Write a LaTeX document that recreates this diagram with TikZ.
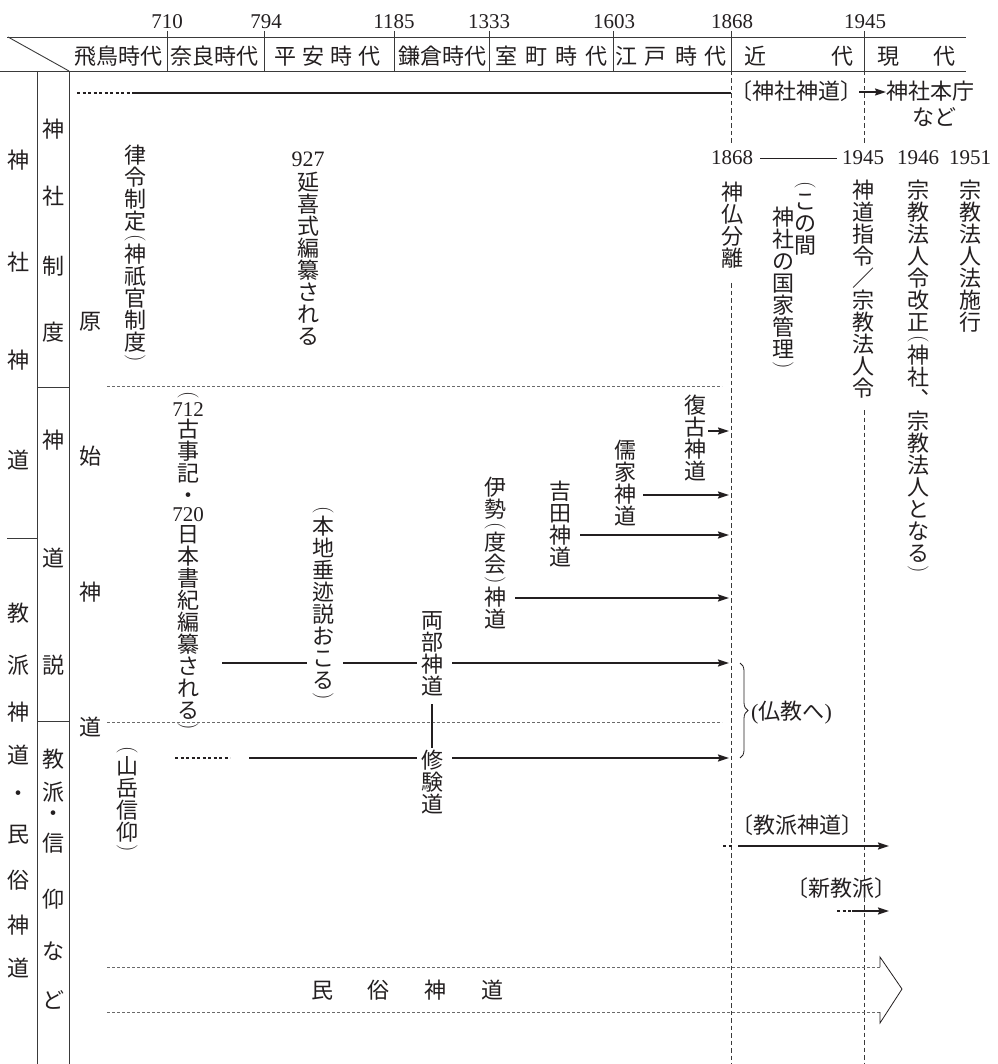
\documentclass[tikz,border=0pt]{standalone}
\usepackage{fontspec}
\usepackage{graphicx}
\newfontfamily\jp{Noto Sans CJK JP}
\newfontfamily\dg{Liberation Serif}
\usetikzlibrary{arrows.meta,decorations.pathreplacing}
\definecolor{ink}{HTML}{231F20}
\definecolor{ln}{HTML}{3A3A3A}
\definecolor{sepc}{HTML}{6A6A6A}

\makeatletter
\newdimen\vtw \vtw=22pt
\newcommand\vchar[1]{\hbox to\vtw{\hss\vrule height 19.36pt depth 2.64pt width 0pt\relax#1\hss}}
\newcommand\VO{\hbox to\vtw{\hss\vbox to 11pt{\vss\hbox{\rotatebox{-90}{\fontsize{21}{21}\rmfamily(}}\kern1.5pt}\hss}}
\newcommand\VC{\hbox to\vtw{\hss\vbox to 11pt{\kern1.5pt\hbox{\rotatebox{-90}{\fontsize{21}{21}\rmfamily)}}\vss}\hss}}
\def\VN#1;{\hbox to\vtw{\hss\vrule height 16pt depth 1.5pt width 0pt\relax{\dg\fontsize{21}{21}\selectfont#1}\hss}}
\newcommand\vtext[1]{\vbox{\offinterlineskip\@tfor\vt@c:=#1\do{\vt@one}}}
\def\vt@one{\expandafter\vt@test\vt@c\@nil}
\def\vt@test#1#2\@nil{\ifcat\noexpand#1\relax\expandafter\@firstoftwo\else\expandafter\@secondoftwo\fi{#1#2}{\vchar{#1#2}}}
\makeatother

\begin{document}
\begin{tikzpicture}[x=1pt,y=-1pt,
  font=\jp\fontsize{22}{22}\selectfont, text=ink,
  frame/.style={draw=ln, line width=0.9pt},
  sepline/.style={draw=sepc, line width=0.6pt, dash pattern=on 3pt off 2pt},
  era/.style={draw=ln, line width=0.8pt, dash pattern=on 4.5pt off 3pt},
  flow/.style={draw=ink, line width=1.7pt},
  flowarr/.style={flow, -{Stealth[length=11pt,width=7pt,inset=1.5pt]}},
  dotline/.style={draw=ink, line width=1.7pt, dash pattern=on 3pt off 2.5pt},
  vt/.style={anchor=north, inner sep=0pt},
  ch/.style={inner sep=0pt},
  yr/.style={font=\dg\fontsize{21}{21}\selectfont, inner sep=0pt, anchor=base},
  hdr/.style={inner sep=0pt},
  ]
\useasboundingbox (0,0) rectangle (997,1064);

% ---------------- header frame
\coordinate (hTL) at (7,37);  \coordinate (hTR) at (966,37);
\coordinate (hBL) at (0,71);  \coordinate (hBR) at (966,71);
\coordinate (dA) at (8,37);   \coordinate (dB) at (69,71);
\draw[frame] (hTL) -- (hTR);
\draw[frame] (hBL) -- (hBR);
\draw[frame] (dA) -- (dB);
\foreach \xx/\nm in {167/a,264/b,394/c,489/d,613/e,731/f,864/g}{
  \coordinate (tk\nm1) at (\xx,31); \coordinate (tk\nm2) at (\xx,71);
  \draw[frame] (tk\nm1) -- (tk\nm2);
}
\node[yr] (y710)  at (167,29) {710};
\node[yr] (y794)  at (266,29) {794};
\node[yr] (y1185) at (394,29) {1185};
\node[yr] (y1333) at (489,29) {1333};
\node[yr] (y1603) at (614,29) {1603};
\node[yr] (y1868) at (732,29) {1868};
\node[yr] (y1945) at (865,29) {1945};

\node[hdr] (p1) at (118,56) {飛鳥時代};
\node[hdr] (p2) at (214,56) {奈良時代};
\node[hdr] (p3) at (327.5,56) {平\kern6.3pt 安\kern6.3pt 時\kern6.3pt 代};
\node[hdr] (p4) at (442,56) {鎌倉時代};
\node[hdr] (p5) at (551.5,56) {室\kern7.7pt 町\kern7.7pt 時\kern7.7pt 代};
\node[hdr] (p6) at (671,56) {江\kern8pt 戸\kern8pt 時\kern8pt 代};
\node[hdr] (p7) at (798.5,56) {近\kern65pt 代};
\node[hdr] (p8) at (916.5,56) {現\kern35pt 代};

% ---------------- left columns
\coordinate (c1t) at (37,71);  \coordinate (c1b) at (37,1064);
\coordinate (c2t) at (69,71);  \coordinate (c2b) at (69,1064);
\draw[frame] (c1t) -- (c1b);
\draw[frame] (c2t) -- (c2b);
\coordinate (s1a) at (7,538);  \coordinate (s1b) at (37,538);
\coordinate (s2a) at (37,387); \coordinate (s2b) at (69,387);
\coordinate (s3a) at (37,721); \coordinate (s3b) at (69,721);
\draw[frame] (s1a) -- (s1b);
\draw[frame] (s2a) -- (s2b);
\draw[frame] (s3a) -- (s3b);

\foreach \ch/\yy [count=\i] in {神/160,社/262,神/360,道/460,教/613,派/665,神/712,道/755,・/796,民/835,俗/880,神/925,道/968}
  \node[ch] (ca\i) at (19,\yy) {\ch};
\foreach \ch/\yy [count=\i] in {神/129,社/196,制/266,度/332,神/440,道/558,説/665,教/759,派/792,・/816,信/843,仰/899,な/951,ど/1000}
  \node[ch] (cb\i) at (53,\yy) {\ch};
\foreach \ch/\yy [count=\i] in {原/322,始/456,神/592,道/727}
  \node[ch] (cc\i) at (90,\yy) {\ch};

% ---------------- era dashed lines
\coordinate (e1a) at (731,71);  \coordinate (e1b) at (731,145);
\coordinate (e1c) at (731,283); \coordinate (e1d) at (731,1064);
\coordinate (e2a) at (864,71);  \coordinate (e2b) at (864,145);
\coordinate (e2c) at (864,410); \coordinate (e2d) at (864,1064);
\draw[era] (e1a) -- (e1b);
\draw[era] (e1c) -- (e1d);
\draw[era] (e2a) -- (e2b);
\draw[era] (e2c) -- (e2d);

% ---------------- section dashed lines
\coordinate (d1a) at (107,386); \coordinate (d1b) at (722,386);
\coordinate (d2a) at (107,722); \coordinate (d2b) at (722,722);
\draw[sepline] (d1a) -- (d1b);
\draw[sepline] (d2a) -- (d2b);

% ---------------- top row: shrine shinto
\coordinate (t0) at (77,93); \coordinate (t1) at (133,93); \coordinate (t2) at (731,93);
\draw[dotline] (t0) -- (t1);
\draw[flow] (t1) -- (t2);
\node[inner sep=0pt, anchor=west] (jsj) at (730,91) {〔神社神道〕};
\node[inner sep=0pt, anchor=west] (jhc) at (886,91) {神社本庁};
\node[inner sep=0pt, anchor=east] (nado) at (957,117) {など};
\coordinate (ta) at (859,92); \coordinate (tb) at (886,92);
\draw[flowarr, line width=1.4pt] (ta) -- (tb);

% ---------------- modern years
\node[yr] (m1868) at (732,165) {1868};
\node[yr] (m1945) at (863,165) {1945};
\node[yr] (m1946) at (918,165) {1946};
\node[yr] (m1951) at (970,165) {1951};
\coordinate (ml1) at (760,158); \coordinate (ml2) at (837,158);
\draw[draw=ink, line width=0.9pt] (ml1) -- (ml2);

% ---------------- vertical texts
\node[vt] (ritsu) at (135,144) {\vtext{律令制定\VO 神祇官制度\VC}};
\node[font=\dg\fontsize{22}{22}\selectfont, inner sep=0pt] (n927) at (308,159) {927};
\node[vt] (engi) at (308,171) {\vtext{延喜式編纂される}};
\node[vt] (kojiki) at (188,389) {\vtext{\VO{\VN712;}古事記・{\VN720;}日本書紀編纂される\VC}};
\node[vt] (honji) at (323,504) {\vtext{\VO 本地垂迹説おこる\VC}};
\node[vt] (ryobu) at (432,609) {\vtext{両部神道}};
\node[vt] (shugen) at (432,749) {\vtext{修験道}};
\node[vt] (ise) at (495,476) {\vtext{伊勢\VO 度会\VC 神道}};
\node[vt] (yoshida) at (560,480) {\vtext{吉田神道}};
\node[vt] (juka) at (625,439) {\vtext{儒家神道}};
\node[vt] (fukko) at (695,394) {\vtext{復古神道}};
\node[vt] (shinbutsu) at (732,181) {\vtext{神仏分離}};
\node[vt] (konoma) at (805,179) {\vtext{\VO この間}};
\node[vt] (kokka) at (783,206) {\vtext{神社の国家管理\VC}};
\node[vt] (shirei) at (863,179) {\vtext{神道指令／宗教法人令}};
\node[vt] (kaisei) at (918,179) {\vtext{宗教法人令改正\VO 神社︑宗教法人となる\VC}};
\node[vt] (hojin) at (970,179) {\vtext{宗教法人法施行}};
\node[vt] (sangaku) at (127,744) {\vtext{\VO 山岳信仰\VC}};

% ---------------- flow arrows
\coordinate (r1s) at (515,598); \coordinate (r1e) at (729,598);
\coordinate (r2s) at (580,535); \coordinate (r2e) at (729,535);
\coordinate (r3s) at (643,495); \coordinate (r3e) at (729,495);
\coordinate (r4s) at (708,431); \coordinate (r4e) at (729,431);
\draw[flowarr] (r1s) -- (r1e);
\draw[flowarr] (r2s) -- (r2e);
\draw[flowarr] (r3s) -- (r3e);
\draw[flowarr, line width=1.5pt] (r4s) -- (r4e);

\coordinate (a1) at (222,663); \coordinate (a2) at (307,663);
\coordinate (a3) at (343,663); \coordinate (a4) at (417,663);
\coordinate (a5) at (452,663); \coordinate (a6) at (729,663);
\draw[flow] (a1) -- (a2);
\draw[flow] (a3) -- (a4);
\draw[flowarr] (a5) -- (a6);

\coordinate (b0) at (175,758); \coordinate (b1) at (230,758);
\coordinate (b2) at (249,758); \coordinate (b3) at (417,758);
\coordinate (b4) at (452,758); \coordinate (b5) at (729,758);
\draw[dotline] (b0) -- (b1);
\draw[flow] (b2) -- (b3);
\draw[flowarr] (b4) -- (b5);

\coordinate (v1) at (432,704); \coordinate (v2) at (432,748);
\draw[draw=ink, line width=1.3pt] (v1) -- (v2);

% ---------------- brace
\coordinate (br1) at (740,663); \coordinate (br2) at (740,758);
\draw[draw=ink, line width=0.8pt, decorate, decoration={brace, amplitude=8pt}] (br1) -- (br2);
\node[inner sep=0pt, anchor=west] (bukkyo) at (751,713) {{\dg(}仏教へ{\dg)}};

% ---------------- sect shinto / new sects
\node[inner sep=0pt] (kyoha) at (797,825) {〔教派神道〕};
\coordinate (k0) at (723,846); \coordinate (k1) at (734,846);
\coordinate (k2) at (738,846); \coordinate (k3) at (889,846);
\draw[dotline] (k0) -- (k1);
\draw[flowarr] (k2) -- (k3);
\node[inner sep=0pt] (shinkyo) at (841,888) {〔新教派〕};
\coordinate (s0) at (837,911); \coordinate (sA) at (852,911); \coordinate (sB) at (889,911);
\draw[dotline] (s0) -- (sA);
\draw[flowarr] (sA) -- (sB);

% ---------------- folk shinto band
\coordinate (f1) at (107,967); \coordinate (f2) at (880,967);
\coordinate (f3) at (107,1012); \coordinate (f4) at (880,1012);
\draw[sepline] (f1) -- (f2);
\draw[sepline] (f3) -- (f4);
\coordinate (fa) at (880,957); \coordinate (fb) at (902,989); \coordinate (fc) at (880,1023);
\draw[draw=ink, line width=0.8pt, line join=miter] (f2) -- (fa) -- (fb) -- (fc) -- (f4);
\node[inner sep=0pt] (minzoku) at (407.5,990) {民\kern35pt 俗\kern35pt 神\kern35pt 道};

\end{tikzpicture}
\end{document}
